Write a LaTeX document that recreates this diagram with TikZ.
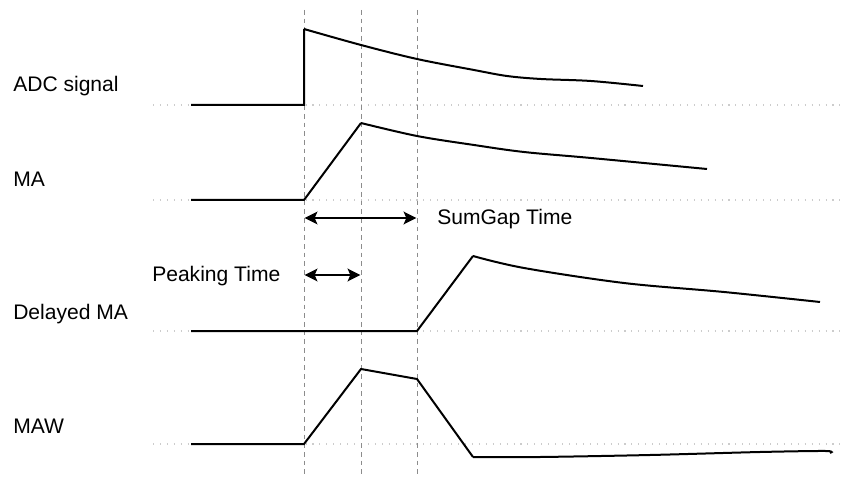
\documentclass[tikz,border=0pt]{standalone}
\usepackage{fontspec}
\setmainfont{Liberation Sans}
\usetikzlibrary{arrows.meta}
\tikzset{
  sig/.style={line width=1.5pt, line join=miter, line cap=butt},
  guide/.style={draw=black!45, line width=0.75pt, dash pattern=on 3.5pt off 3pt},
  base/.style={draw=black!20, line width=0.8pt, dash pattern=on 0.8pt off 4.4pt},
  dim/.style={line width=1.5pt, {Stealth[length=9.5pt,width=9.5pt,inset=2pt]}-{Stealth[length=9.5pt,width=9.5pt,inset=2pt]}, shorten <=0.5pt, shorten >=0.5pt},
  lbl/.style={anchor=base west, inner sep=0pt, font=\fontsize{15.8pt}{18pt}\selectfont}
}
\begin{document}
\begin{tikzpicture}[x=0.75pt,y=-0.75pt]
\useasboundingbox (0,0) rectangle (848,477);
% baselines
\foreach \yy in {105,200,331,444} \draw[base] (153,\yy) -- (843,\yy);
% guide lines
\coordinate (g0t) at (304,10); \coordinate (g0b) at (304,477);
\coordinate (g1t) at (361,10); \coordinate (g1b) at (361,477);
\coordinate (g2t) at (417,10); \coordinate (g2b) at (417,477);
\draw[guide] (g0t) -- (g0b);
\draw[guide] (g1t) -- (g1b);
\draw[guide] (g2t) -- (g2b);
% labels
\node[lbl] (adc) at (13,92) {ADC signal};
\node[lbl] (ma) at (13,187) {MA};
\node[lbl] (dma) at (13,319) {Delayed MA};
\node[lbl] (maw) at (13,433) {MAW};
\node[lbl] (pk) at (152,281) {Peaking Time};
\node[lbl] (sg) at (437,224) {SumGap Time};
% ADC signal
\draw[sig] (191,105) -- (304,105) -- (304,29)
  plot[smooth, tension=0.55] coordinates {(304,29) (361,45) (417,59) (474,70) (507,76) (541,79) (591,81) (643,86)};
% MA
\draw[sig] (191,200) -- (304,200) -- (361,123)
  plot[smooth, tension=0.55] coordinates {(361,123) (417,136) (474,145) (524,152) (591,158) (707,169)};
% Delayed MA
\draw[sig] (191,331) -- (417,331) -- (473,256)
  plot[smooth, tension=0.55] coordinates {(473,256) (524,268) (624,283) (724,292) (820,302)};
% MAW
\draw[sig] (191,444) -- (304,444) -- (361,369) -- (417,379) -- (473,457)
  plot[smooth, tension=0.5] coordinates {(473,457) (540,457) (650,455) (760,452) (826,451) (830,453)};
% dimension arrows
\coordinate (sa) at (304,218); \coordinate (sb) at (417,218);
\coordinate (pa) at (304,275); \coordinate (pb) at (361,275);
\draw[dim] (sa) -- (sb);
\draw[dim] (pa) -- (pb);
\end{tikzpicture}
\end{document}
